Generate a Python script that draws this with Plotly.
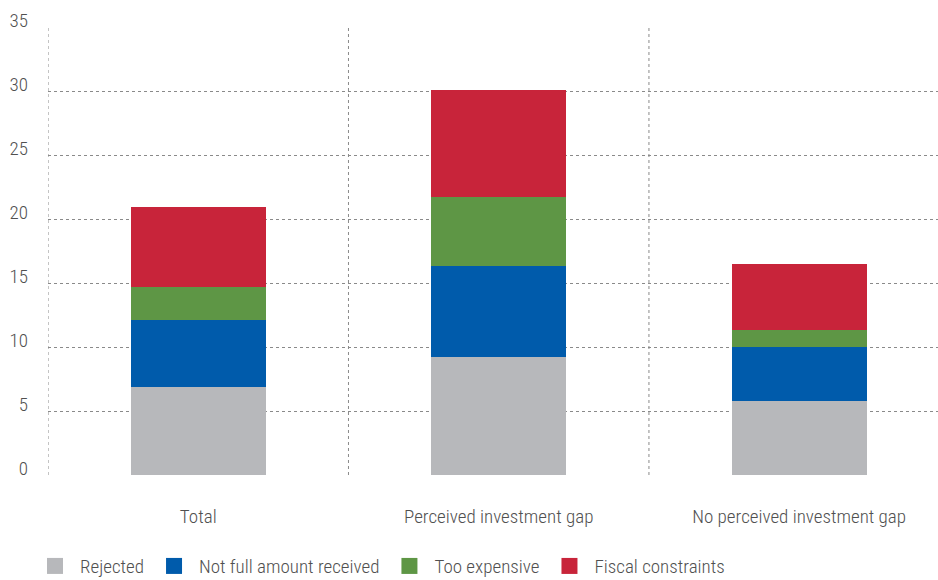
import plotly.graph_objects as go

categories = ["Total", "Perceived investment gap", "No perceived investment gap"]
series_names = ["Rejected", "Not full amount received", "Too expensive", "Fiscal constraints"]
rejected = [6.9, 9.2, 5.8]
not_full_amount = [5.2, 7.1, 4.2]
too_expensive = [2.6, 5.4, 1.3]
fiscal_constraints = [6.2, 8.4, 5.2]
y_ticks = [0, 5, 10, 15, 20, 25, 30, 35]

colors = ["#b7b8bb", "#005bab", "#5e9645", "#c8243a"]
values = [rejected, not_full_amount, too_expensive, fiscal_constraints]

FONT = "Roboto Condensed, Liberation Sans, sans-serif"
TEXT = "#505050"
GRID = "#8a8a8a"
FS = 19
WT = 300

fig = go.Figure()
for name, vals, col in zip(series_names, values, colors):
    fig.add_trace(go.Bar(
        x=categories, y=vals, name=name, marker=dict(color=col, line=dict(width=0)),
        width=0.45, showlegend=False,
    ))
    # legend entry drawn as a square marker
    fig.add_trace(go.Scatter(
        x=[None], y=[None], mode="markers", name=name,
        marker=dict(symbol="square", size=16, color=col),
    ))

# dotted frame on the left and dividers between the groups
for xv in [-0.5, 0.5, 1.5]:
    fig.add_shape(type="line", x0=xv, x1=xv, y0=0, y1=35, xref="x", yref="y",
                  line=dict(color=GRID, width=1, dash="dot"), layer="below")

fig.update_layout(
    barmode="stack",
    width=938, height=580,
    margin=dict(l=48, r=0, t=27, b=105),
    paper_bgcolor="white", plot_bgcolor="white",
    font=dict(family=FONT, size=FS, color=TEXT, weight=WT),
    xaxis=dict(range=[-0.5, 2.462], showgrid=False, zeroline=False, showline=False,
               ticks="", ticklabelstandoff=28, tickfont=dict(size=FS, color=TEXT, weight=WT)),
    yaxis=dict(range=[0, 35], tickvals=y_ticks, showgrid=True, gridcolor=GRID,
               griddash="dot", gridwidth=1, zeroline=False, showline=False,
               ticks="", ticklabelstandoff=19, ticklabelshift=-7,
               tickfont=dict(size=FS, color=TEXT, weight=WT)),
    legend=dict(orientation="h", xref="container", yref="container",
                x=0.032, y=0.024, xanchor="left", yanchor="middle", traceorder="normal",
                font=dict(size=FS, color=TEXT, weight=WT), bgcolor="rgba(0,0,0,0)",
                tracegroupgap=0, itemwidth=40),
    bargap=0.55,
)

fig.write_html("out.html")
